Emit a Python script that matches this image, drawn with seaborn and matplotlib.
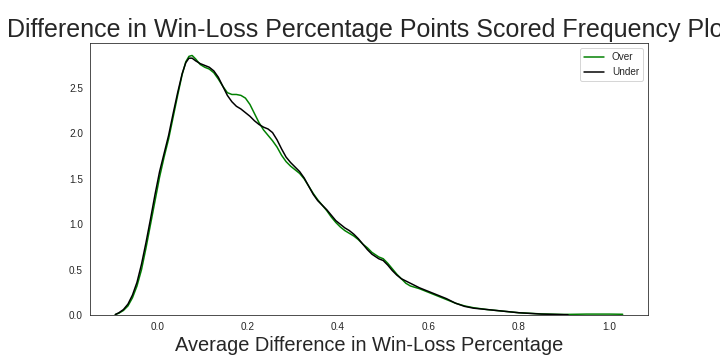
import pandas as pd
import matplotlib
matplotlib.use("Agg")
import matplotlib.pyplot as plt
import seaborn as sns

# --- values (KDE curves) --------------------------------------------------------
over_x = [-0.093, -0.085, -0.075, -0.065, -0.055, -0.045, -0.035, -0.025, -0.015, -0.005,
          0.005, 0.015, 0.025, 0.035, 0.045, 0.055, 0.063, 0.07, 0.077, 0.085, 0.095,
          0.105, 0.115, 0.125, 0.135, 0.145, 0.155, 0.165, 0.175, 0.185, 0.195, 0.205,
          0.215, 0.225, 0.235, 0.245, 0.255, 0.265, 0.275, 0.285, 0.295, 0.305, 0.315,
          0.325, 0.335, 0.345, 0.355, 0.365, 0.375, 0.385, 0.395, 0.405, 0.415, 0.425,
          0.435, 0.445, 0.455, 0.465, 0.475, 0.49, 0.5, 0.51, 0.52, 0.53, 0.54, 0.55,
          0.56, 0.58, 0.6, 0.62, 0.64, 0.66, 0.68, 0.7, 0.73, 0.76, 0.8, 0.85, 0.9,
          0.95, 1.0, 1.03]
over_y = [0.005, 0.02, 0.05, 0.10, 0.19, 0.32, 0.50, 0.74, 1.00, 1.26,
          1.52, 1.74, 1.94, 2.18, 2.42, 2.65, 2.79, 2.85, 2.86, 2.82, 2.76,
          2.73, 2.71, 2.67, 2.60, 2.52, 2.45, 2.43, 2.43, 2.42, 2.39, 2.32,
          2.22, 2.12, 2.04, 1.98, 1.92, 1.85, 1.76, 1.69, 1.64, 1.60, 1.56,
          1.50, 1.42, 1.34, 1.27, 1.21, 1.15, 1.08, 1.02, 0.97, 0.93, 0.90,
          0.87, 0.83, 0.78, 0.74, 0.69, 0.64, 0.62, 0.57, 0.51, 0.45, 0.40, 0.35,
          0.32, 0.29, 0.25, 0.21, 0.17, 0.13, 0.10, 0.08, 0.06, 0.045, 0.025, 0.012, 0.006,
          0.01, 0.01, 0.008]

under_x = [-0.093, -0.085, -0.075, -0.065, -0.055, -0.045, -0.035, -0.025, -0.015, -0.005,
           0.005, 0.015, 0.025, 0.035, 0.045, 0.055, 0.063, 0.07, 0.077, 0.085, 0.095,
           0.105, 0.115, 0.125, 0.135, 0.145, 0.155, 0.165, 0.175, 0.185, 0.195, 0.205,
           0.215, 0.225, 0.235, 0.245, 0.255, 0.265, 0.275, 0.285, 0.295, 0.305, 0.315,
           0.325, 0.335, 0.345, 0.355, 0.365, 0.375, 0.385, 0.395, 0.405, 0.415, 0.425,
           0.435, 0.445, 0.455, 0.465, 0.475, 0.49, 0.5, 0.51, 0.52, 0.53, 0.54, 0.55,
           0.56, 0.58, 0.6, 0.62, 0.64, 0.66, 0.68, 0.7, 0.73, 0.76, 0.8, 0.85, 0.909]
under_y = [0.005, 0.025, 0.06, 0.12, 0.22, 0.36, 0.56, 0.80, 1.06, 1.33,
           1.58, 1.78, 1.98, 2.22, 2.45, 2.66, 2.78, 2.83, 2.83, 2.80, 2.77,
           2.75, 2.73, 2.69, 2.62, 2.52, 2.42, 2.35, 2.30, 2.27, 2.23, 2.19,
           2.14, 2.10, 2.07, 2.05, 2.01, 1.93, 1.83, 1.74, 1.68, 1.63, 1.58,
           1.51, 1.42, 1.33, 1.26, 1.21, 1.16, 1.10, 1.04, 1.00, 0.96, 0.93,
           0.89, 0.84, 0.78, 0.72, 0.67, 0.62, 0.60, 0.55, 0.49, 0.44, 0.40, 0.375,
           0.35, 0.30, 0.26, 0.22, 0.18, 0.13, 0.095, 0.075, 0.06, 0.045, 0.025, 0.01, 0.003]

series_names = ["Over", "Under"]
colors = {"Over": "green", "Under": "black"}

df = pd.concat([
    pd.DataFrame({"x": over_x, "y": over_y, "kind": "Over"}),
    pd.DataFrame({"x": under_x, "y": under_y, "kind": "Under"}),
])

sns.set_style("white")
plt.rcParams["font.family"] = ["Liberation Sans", "DejaVu Sans"]

fig = plt.figure(figsize=(10, 5), dpi=72)
ax = fig.add_axes([0.125, 0.125, 0.775, 0.755])
sns.lineplot(data=df, x="x", y="y", hue="kind", hue_order=series_names,
             palette=colors, estimator=None, sort=False, linewidth=1.5, ax=ax)

ax.set_ylim(0, 2.995)
ax.set_xlim(-0.149, 1.086)
ax.tick_params(labelsize=10, colors="#262626")
ax.set_xlabel("Average Difference in Win-Loss Percentage", fontsize=20)
ax.set_ylabel("")
ax.set_title("Difference in Win-Loss Percentage Points Scored Frequency Plot", fontsize=25)
ax.legend(loc="upper right", fontsize=10)

fig.savefig("out.png", dpi=72)
